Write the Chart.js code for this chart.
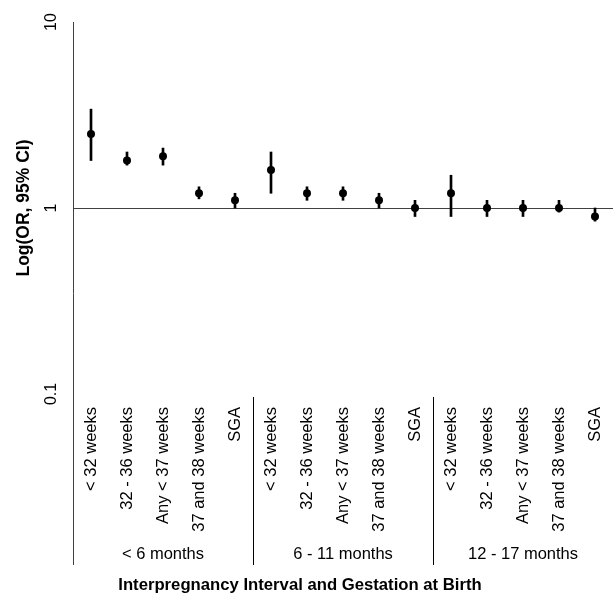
<!DOCTYPE html>
<html>
<head>
<meta charset="utf-8">
<script src="https://cdn.jsdelivr.net/npm/chart.js@4/dist/chart.umd.min.js"></script>
<style>
  html, body { margin: 0; padding: 0; background: #fff; overflow: hidden; }
  #wrap { width: 613px; height: 597px; position: relative; }
</style>
</head>
<body>
<div id="wrap"><canvas id="myChart"></canvas></div>
<script>
// data
const groups = ["< 6 months", "6 - 11 months", "12 - 17 months"];
const subgroups = ["< 32 weeks", "32 - 36 weeks", "Any < 37 weeks", "37 and 38 weeks", "SGA"];
const oddsRatio = [2.5, 1.8, 1.9, 1.2, 1.1, 1.6, 1.2, 1.2, 1.1, 1.0, 1.2, 1.0, 1.0, 1.0, 0.9];
const ciLow = [1.8, 1.7, 1.7, 1.12, 1.0, 1.2, 1.1, 1.1, 1.0, 0.9, 0.9, 0.9, 0.9, 0.95, 0.85];
const ciHigh = [3.4, 2.0, 2.1, 1.3, 1.2, 2.0, 1.3, 1.3, 1.2, 1.1, 1.5, 1.1, 1.1, 1.1, 1.0];
const yTicks = [0.1, 1, 10];
const xTitle = "Interpregnancy Interval and Gestation at Birth";

const FONT = "'Liberation Sans', Arial, sans-serif";
const labels = [];
groups.forEach(() => subgroups.forEach(s => labels.push(s)));

const extras = {
  id: "extras",
  afterDraw(chart) {
    const ctx = chart.ctx;
    const x = chart.scales.x;
    const y = chart.scales.y;
    const left = chart.chartArea.left;
    const bottomLine = 565;
    ctx.save();
    ctx.strokeStyle = "#404040";
    ctx.lineWidth = 1;
    // y axis line, running down past the labels
    ctx.beginPath();
    ctx.moveTo(left + 0.5, chart.chartArea.top);
    ctx.lineTo(left + 0.5, bottomLine);
    ctx.stroke();

    // y tick labels, rotated
    ctx.fillStyle = "#000";
    ctx.font = "16px " + FONT;
    ctx.textAlign = "center";
    ctx.textBaseline = "middle";
    yTicks.forEach(v => {
      ctx.save();
      ctx.translate(52, y.getPixelForValue(v));
      ctx.rotate(-Math.PI / 2);
      ctx.fillText(String(v), 0, 0);
      ctx.restore();
    });

    // group separators and labels
    const n = subgroups.length;
    ctx.strokeStyle = "#000";
    for (let g = 1; g < groups.length; g++) {
      const sx = Math.round((x.getPixelForValue(g * n - 1) + x.getPixelForValue(g * n)) / 2) + 0.5;
      ctx.beginPath();
      ctx.moveTo(sx, 397);
      ctx.lineTo(sx, bottomLine);
      ctx.stroke();
    }
    ctx.font = "16.5px " + FONT;
    groups.forEach((g, i) => {
      ctx.fillText(g, x.getPixelForValue(i * n + (n - 1) / 2), 554);
    });

    // x title, centred on the whole picture
    ctx.font = "bold 16.7px " + FONT;
    ctx.fillText(xTitle, 300, 585);
    ctx.restore();
  }
};

new Chart(document.getElementById("myChart"), {
  type: "bar",
  data: {
    labels: labels,
    datasets: [
      {
        type: "line",
        label: "OR",
        data: oddsRatio,
        showLine: false,
        pointRadius: 4,
        pointHoverRadius: 4,
        pointBackgroundColor: "#000",
        pointBorderColor: "#000",
        pointBorderWidth: 0,
        order: 0
      },
      {
        label: "95% CI",
        data: ciLow.map((lo, i) => [lo, ciHigh[i]]),
        backgroundColor: "#000",
        borderWidth: 0,
        barThickness: 2,
        order: 1
      }
    ]
  },
  plugins: [extras],
  options: {
    responsive: true,
    maintainAspectRatio: false,
    animation: false,
    layout: { autoPadding: false, padding: { top: 22, left: 0, right: 0, bottom: 0 } },
    plugins: {
      legend: { display: false },
      tooltip: { enabled: false }
    },
    scales: {
      x: {
        offset: true,
        grid: { display: false },
        border: { display: false },
        ticks: {
          minRotation: 90,
          maxRotation: 90,
          autoSkip: false,
          padding: 5,
          color: "#000",
          font: { family: FONT, size: 16.5 }
        },
        afterFit: s => {
          s.height = 203;
          s.paddingLeft = 0;
          s.paddingRight = 0;
        }
      },
      y: {
        type: "logarithmic",
        min: 0.1,
        max: 10,
        afterBuildTicks: s => { s.ticks = yTicks.map(v => ({ value: v })); },
        ticks: { display: false },
        border: { display: false },
        grid: {
          drawTicks: false,
          color: c => (c.tick && c.tick.value === 1 ? "#404040" : "rgba(0,0,0,0)"),
          lineWidth: 1
        },
        title: {
          display: true,
          text: "Log(OR, 95% CI)",
          color: "#000",
          font: { family: FONT, size: 17.5, weight: "bold" },
          padding: { top: 14, bottom: 0 }
        },
        afterFit: s => { s.width = 73; }
      }
    }
  }
});
</script>
</body>
</html>
